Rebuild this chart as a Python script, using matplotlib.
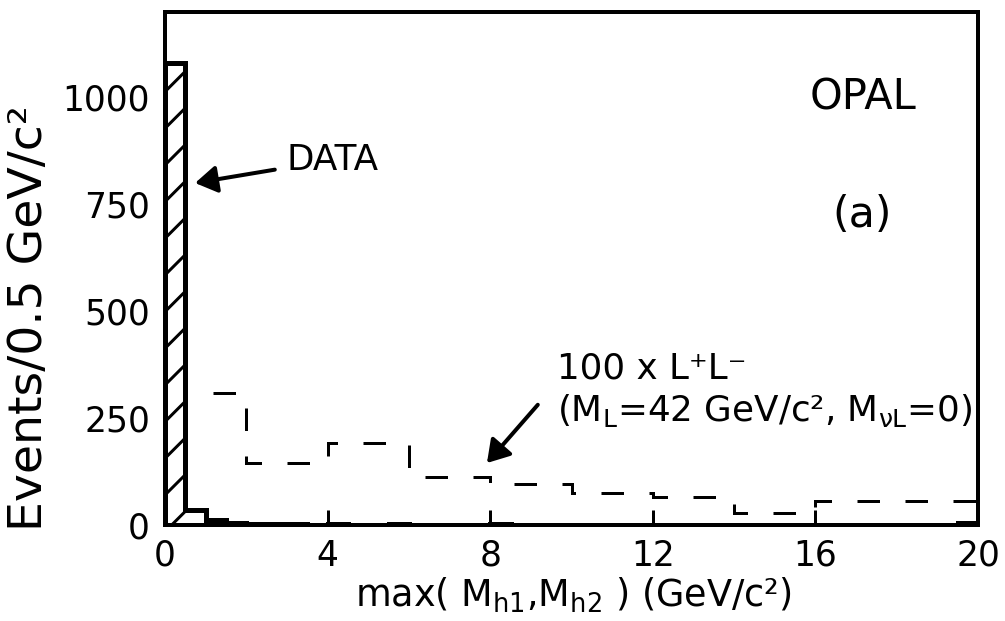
import matplotlib.pyplot as plt
import numpy as np

DPI = 220
PT = 72.0 / DPI  # points per output pixel

# OPAL data, events per 0.5 GeV/c^2 bin from 0 to 20
data_edges = np.arange(0, 20.5, 0.5)
data_counts = [1080, 35, 12, 4, 3, 2, 2, 1, 2, 1,
               1, 2, 1, 0, 1, 1, 2, 0, 1, 1,
               0, 1, 0, 1, 0, 0, 1, 0, 1, 0,
               0, 0, 1, 0, 0, 0, 0, 1, 0, 5]

# 100 x L+L- expectation (M_L = 42 GeV/c^2, M_nuL = 0)
mc_edges = [0, 2, 4, 6, 8, 10, 12, 14, 16, 20]
mc_counts = [309, 145, 192, 112, 96, 75, 65, 28, 55]

x_ticks = [0, 4, 8, 12, 16, 20]
y_ticks = [0, 250, 500, 750, 1000]

plt.rcParams['font.family'] = 'DejaVu Sans'
plt.rcParams['mathtext.fontset'] = 'custom'
plt.rcParams['mathtext.rm'] = 'DejaVu Sans'
plt.rcParams['mathtext.it'] = 'DejaVu Sans'
plt.rcParams['hatch.linewidth'] = 3 * PT

fig = plt.figure(figsize=(1006 / DPI, 621 / DPI), dpi=DPI)
ax = fig.add_axes([165 / 1006, 1 - 525 / 621, (978 - 165) / 1006, (525 - 12) / 621])

# dashed signal histogram, drawn under the data
ax.stairs(mc_counts, mc_edges, baseline=None, color='black', lw=3 * PT,
          linestyle=(0, (7.5, 8.5)), zorder=1)

# hatched data histogram
ax.stairs(data_counts, data_edges, fill=True, facecolor='white',
          edgecolor='black', hatch='//', lw=0, zorder=2)
ax.stairs(data_counts, data_edges, baseline=0, color='black', lw=5 * PT, zorder=3)

ax.set_xlim(0, 20)
ax.set_ylim(0, 1200)
ax.set_xticks(x_ticks)
ax.set_yticks(y_ticks)
ax.tick_params(axis='x', direction='in', length=15 * PT, width=3 * PT,
               pad=14 * PT, labelsize=11.3)
ax.tick_params(axis='y', length=0, pad=15 * PT, labelsize=11.3)
for s in ax.spines.values():
    s.set_linewidth(4 * PT)

fig.text(30 / 1006, 1 - 318 / 621, 'Events/0.5 GeV/c²', rotation=90,
         ha='center', va='center', fontsize=15.5)
fig.text(573 / 1006, 1 - 595 / 621, 'max( M$_{h1}$,M$_{h2}$ ) (GeV/c²)',
         ha='center', va='center', fontsize=12)

arrow = dict(arrowstyle='-|>,head_length=0.4,head_width=0.25', color='black',
             lw=4 * PT, mutation_scale=15, shrinkB=0)
ax.annotate('DATA', xy=(0.74, 800), xytext=(3.0, 854), ha='left', va='center',
            fontsize=11.7, arrowprops=arrow)
ax.annotate('', xy=(7.92, 145), xytext=(9.27, 292), arrowprops=arrow)
ax.text(9.64, 367, '100 x L⁺L⁻', ha='left', va='center', fontsize=11.7)
ax.text(9.64, 269, r'(M$_\mathrm{L}$=42 GeV/c², M$_{\nu\mathrm{L}}$=0)',
        ha='left', va='center', fontsize=11.7)
ax.text(15.87, 1001, 'OPAL', ha='left', va='center', fontsize=13.6)
ax.text(17.15, 725, '(a)', ha='center', va='center', fontsize=14)

fig.savefig('out.png', dpi=DPI)
